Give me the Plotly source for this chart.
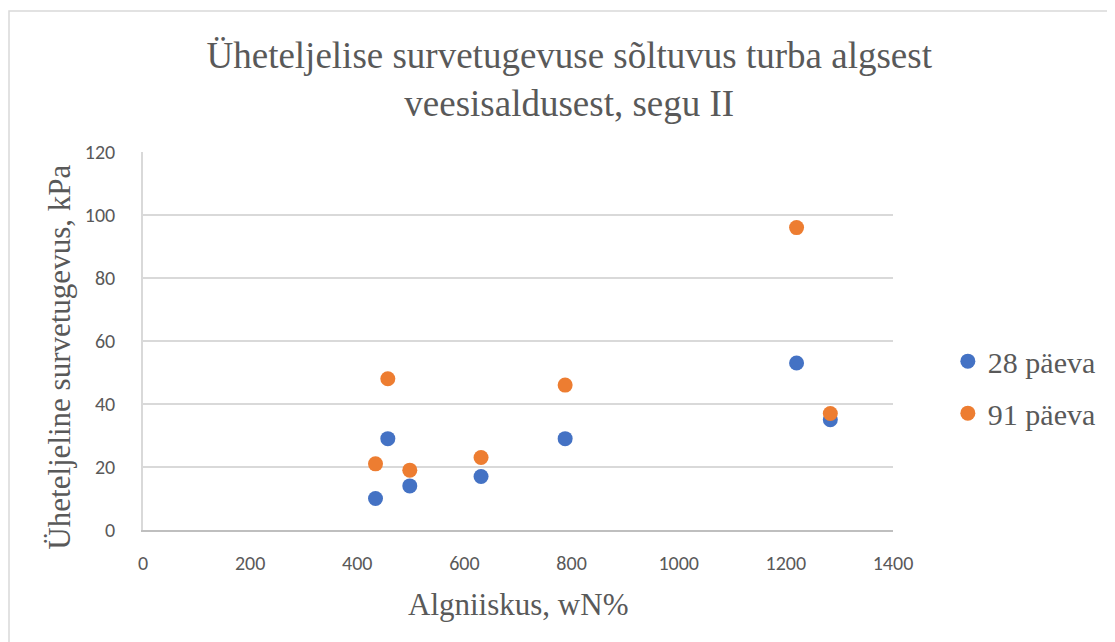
import plotly.graph_objects as go

x_vals = [434, 457, 498, 631, 788, 1220, 1283]
y_28 = [10, 29, 14, 17, 29, 53, 35]
y_91 = [21, 48, 19, 23, 46, 96, 37]
series_names = ["28 päeva", "91 päeva"]
colors = ["#4472C4", "#ED7D31"]

fig = go.Figure()
for i, (name, ys, c) in enumerate(zip(series_names, [y_28, y_91], colors)):
    fig.add_trace(go.Scatter(x=x_vals, y=ys, mode="markers", name=name, legendgroup=f"g{i}",
                             marker=dict(size=15, color=c)))

serif = "Liberation Serif, Times New Roman, serif"
sans = "Carlito, Liberation Sans, Arial, sans-serif"
grey = "#595959"

# page body has an 8px margin; compensate so the plot area lands on the reference
W, H = 1107, 634
L, T = 135, 144
PW, PH = 750, 378

fig.update_layout(
    width=W, height=H,
    margin=dict(l=L, r=W - L - PW, t=T, b=H - T - PH, autoexpand=False),
    paper_bgcolor="white", plot_bgcolor="white",
    title=dict(text="Üheteljelise survetugevuse sõltuvus turba algsest<br>veesisaldusest, segu II",
               x=0.507, xanchor="center", y=0.905, yanchor="middle",
               font=dict(family=serif, size=37, color=grey)),
    legend=dict(xref="container", yref="container", x=0.849, y=0.402,
                xanchor="left", yanchor="middle",
                font=dict(family=serif, size=30, color=grey),
                itemsizing="trace", tracegroupgap=10),
    showlegend=True,
)
fig.update_xaxes(range=[0, 1400], dtick=200, showgrid=False, zeroline=False,
                 showline=True, linecolor="#bfbfbf", linewidth=1.5,
                 ticks="", ticklabelstandoff=14, tickfont=dict(family=sans, size=20, color=grey))
fig.update_yaxes(range=[0, 120], dtick=20, showgrid=True, gridcolor="#d9d9d9", gridwidth=1.5,
                 zeroline=False, showline=True, linecolor="#d9d9d9", linewidth=1.5,
                 ticks="", ticklabelstandoff=22, tickfont=dict(family=sans, size=20, color=grey))
fig.add_annotation(text="Algniiskus, wN%", xref="paper", yref="paper", x=0.5, y=-0.198,
                   xanchor="center", yanchor="middle", showarrow=False,
                   font=dict(family=serif, size=31, color=grey))
fig.add_annotation(text="Üheteljeline survetugevus, kPa", xref="paper", yref="paper", x=-0.111, y=0.458,
                   xanchor="center", yanchor="middle", showarrow=False, textangle=-90,
                   font=dict(family=serif, size=31, color=grey))
fig.add_shape(type="rect", xref="paper", yref="paper",
              x0=(9 - 143) / PW, x1=(1112 - 143) / PW, y0=-0.4, y1=(530 - 11) / PH,
              line=dict(color="#d9d9d9", width=1.5), layer="below")

fig.write_html("out.html")
